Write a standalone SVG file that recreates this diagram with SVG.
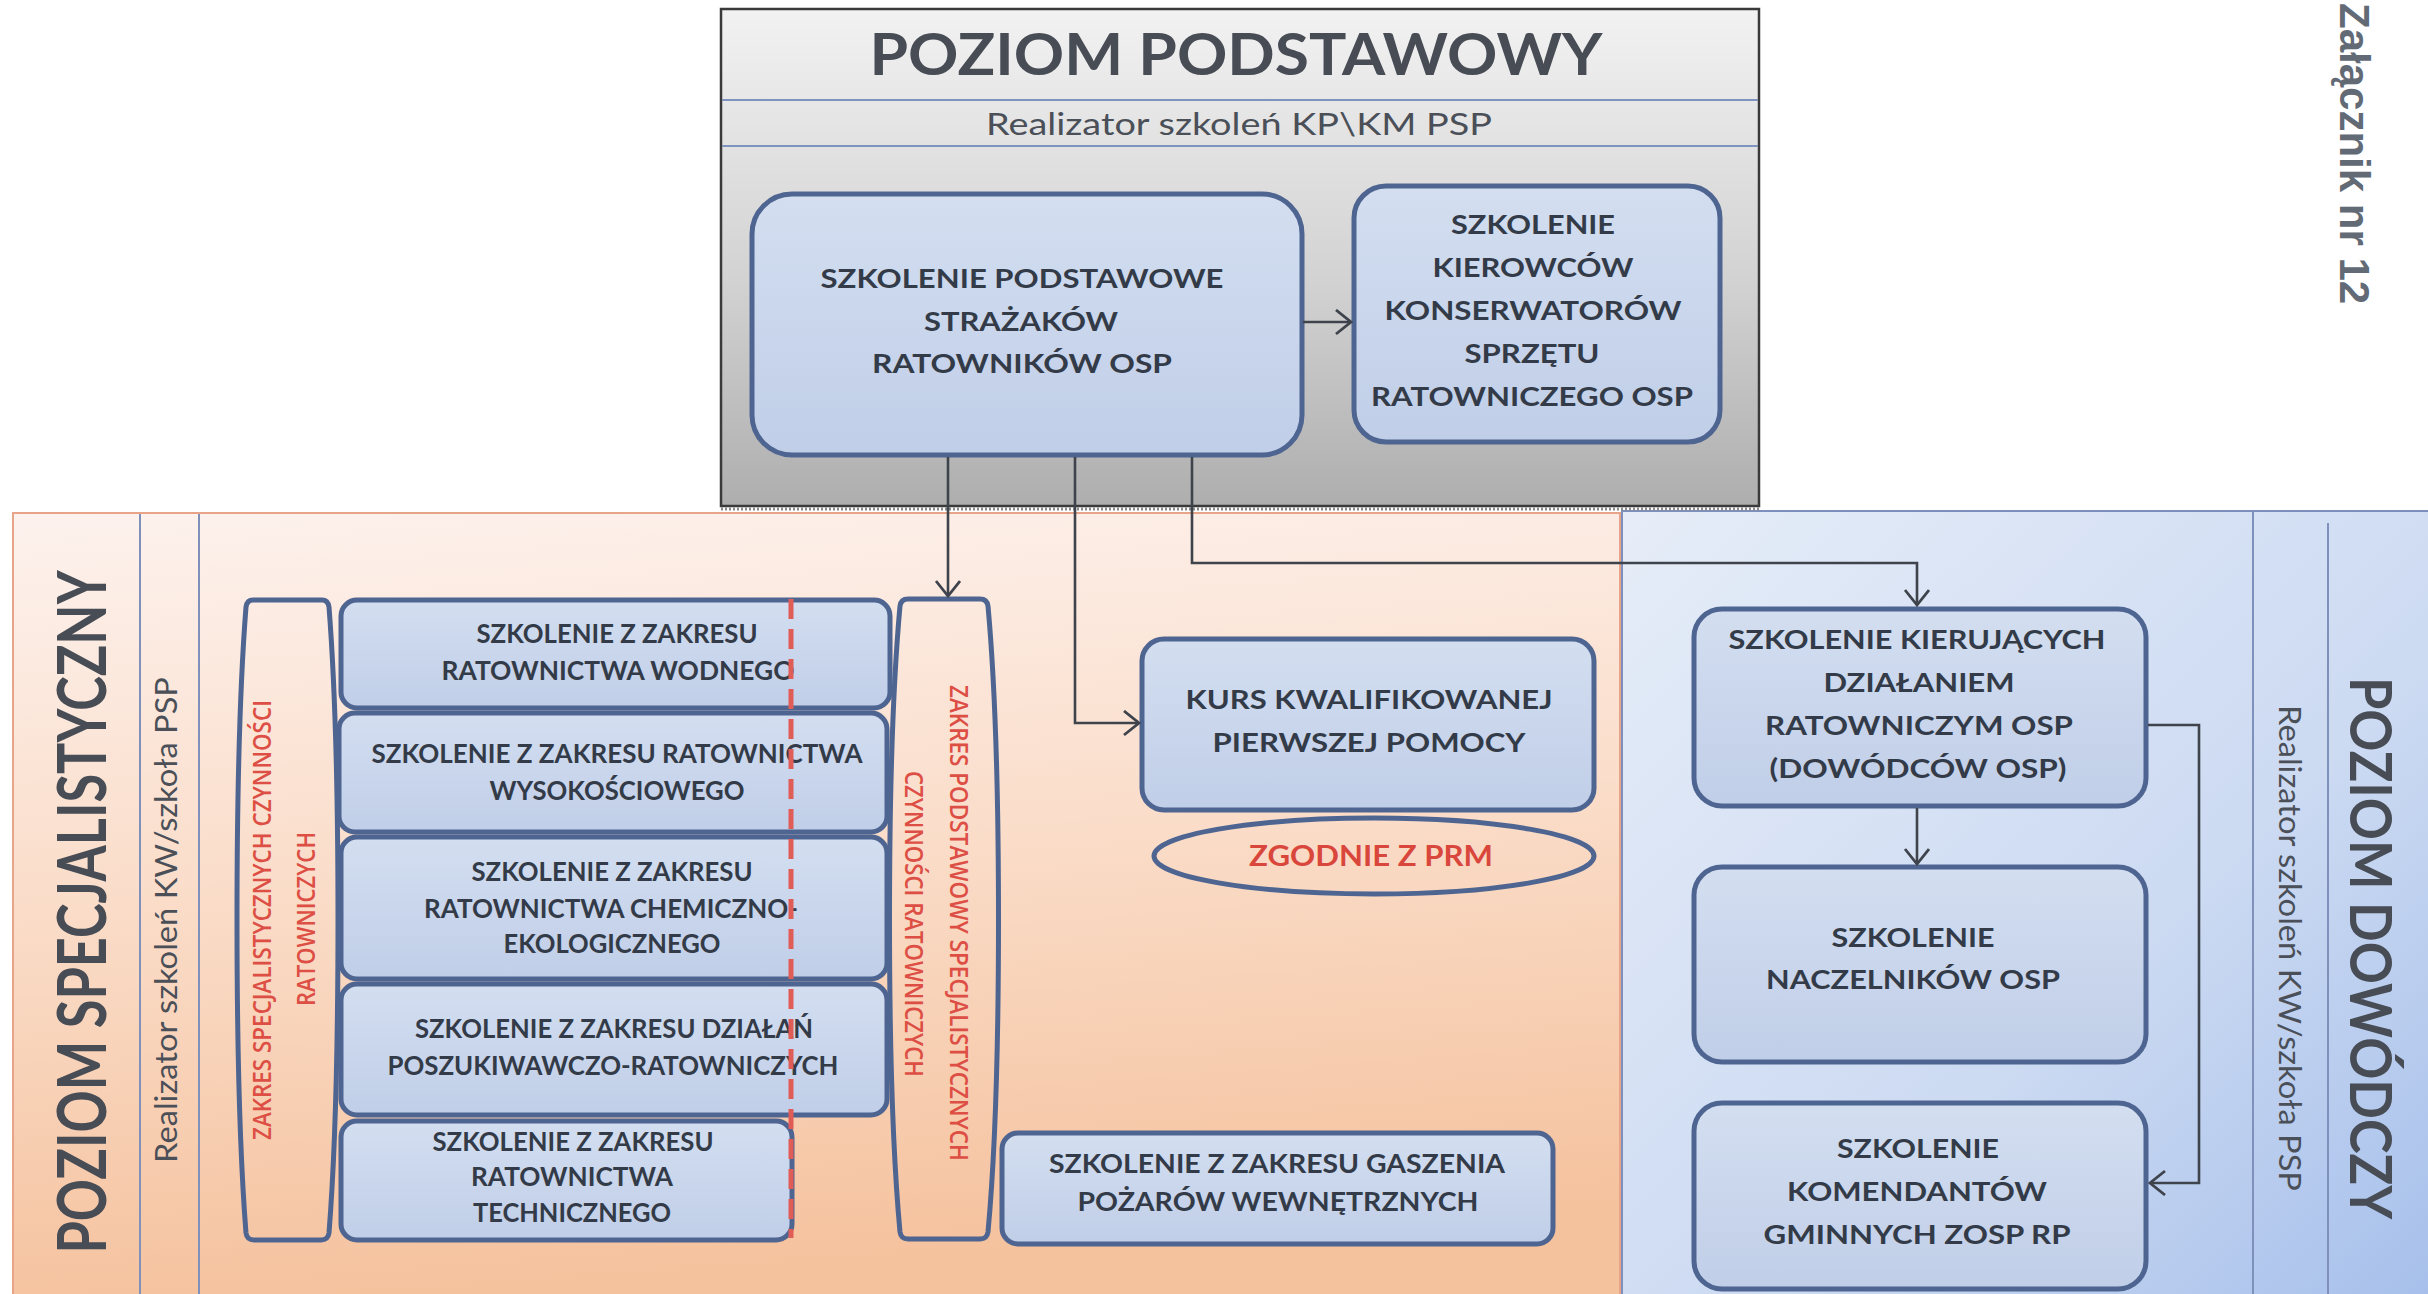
<svg xmlns="http://www.w3.org/2000/svg" width="2428" height="1294" viewBox="0 0 2428 1294">
<defs>
  <linearGradient id="gGray" x1="0" y1="0" x2="0" y2="1">
    <stop offset="0" stop-color="#f2f2f2"/>
    <stop offset="0.55" stop-color="#d2d2d2"/>
    <stop offset="1" stop-color="#aeaeae"/>
  </linearGradient>
  <linearGradient id="gOrange" x1="0" y1="0" x2="0.15" y2="1">
    <stop offset="0" stop-color="#fdf2ee"/>
    <stop offset="0.5" stop-color="#fadcc8"/>
    <stop offset="1" stop-color="#f5c29e"/>
  </linearGradient>
  <linearGradient id="gBlue" x1="0" y1="0" x2="1" y2="1">
    <stop offset="0" stop-color="#e6edf8"/>
    <stop offset="0.6" stop-color="#ccdaf2"/>
    <stop offset="1" stop-color="#a7c0eb"/>
  </linearGradient>
  <linearGradient id="gNode" x1="0" y1="0" x2="0" y2="1">
    <stop offset="0" stop-color="#d3def0"/>
    <stop offset="1" stop-color="#c0cee8"/>
  </linearGradient>
  <marker id="arr" markerUnits="userSpaceOnUse" markerWidth="22" markerHeight="30" viewBox="0 0 22 30" refX="17" refY="13" orient="auto">
    <path d="M2,1 L17,13 L2,25" fill="none" stroke="#3e434c" stroke-width="2.8"/>
  </marker>
  <style>
    .node rect { fill: url(#gNode); stroke: #4f6591; stroke-width: 5; }
    .t { font-family: Lato, "Noto Sans", "Liberation Sans", sans-serif; font-weight: 700; font-size: 27px; fill: #333b48; text-anchor: middle; }
    .prm { font-family: Lato, "Noto Sans", "Liberation Sans", sans-serif; font-weight: 700; font-size: 28px; fill: #d9473c; text-anchor: middle; }
    .red { font-family: "Open Sans", Lato, "Liberation Sans", sans-serif; font-weight: 600; font-size: 25px; fill: #dd4f45; text-anchor: middle; }
    .big { font-family: Lato, "Noto Sans", "Liberation Sans", sans-serif; font-weight: 700; fill: #474c55; text-anchor: middle; }
    .sub { font-family: Lato, "Noto Sans", "Liberation Sans", sans-serif; font-weight: 400; fill: #4a4f58; text-anchor: middle; }
    .conn { fill: none; stroke: #3e434c; stroke-width: 2.6; }
    .cap { fill: none; stroke: #4f6591; stroke-width: 5; }
    .sep { stroke: #7f91bb; stroke-width: 2; }
  </style>
</defs>

<rect x="0" y="0" width="2428" height="1294" fill="#ffffff"/>

<!-- Annex label -->
<text transform="translate(2340,3) rotate(90)" font-family="'Liberation Sans', Arial, sans-serif" font-weight="700" font-size="42" fill="#626a75">Załącznik nr 12</text>

<!-- Panels -->
<g id="panel-specjalistyczny">
  <rect x="13" y="513" width="1607" height="790" fill="url(#gOrange)" stroke="#e7a488" stroke-width="2"/>
  <line class="sep" x1="140" y1="514" x2="140" y2="1294"/>
  <line class="sep" x1="199" y1="514" x2="199" y2="1294"/>
  <text class="big" transform="translate(106,912) rotate(-90)" font-size="66" textLength="683" lengthAdjust="spacingAndGlyphs">POZIOM SPECJALISTYCZNY</text>
  <text class="sub" transform="translate(177,920) rotate(-90)" font-size="31" textLength="486" lengthAdjust="spacingAndGlyphs">Realizator szkoleń KW/szkoła PSP</text>
</g>
<g id="panel-dowodczy">
  <rect x="1621" y="510" width="807" height="784" fill="url(#gBlue)"/>
  <path d="M2428,511 L1622,511 L1622,1294" fill="none" stroke="#7d8fba" stroke-width="2"/>
  <line class="sep" x1="2253" y1="511" x2="2253" y2="1294" stroke="#6a80b3"/>
  <line class="sep" x1="2328" y1="523" x2="2328" y2="1294" stroke="#6a80b3"/>
  <text class="big" transform="translate(2350,948) rotate(90)" font-size="58" textLength="542" lengthAdjust="spacingAndGlyphs">POZIOM DOWÓDCZY</text>
  <text class="sub" transform="translate(2279,948) rotate(90)" font-size="31" textLength="486" lengthAdjust="spacingAndGlyphs">Realizator szkoleń KW/szkoła PSP</text>
</g>
<g id="panel-podstawowy">
  <rect x="721" y="9" width="1038" height="497" fill="url(#gGray)" stroke="#3a3a3a" stroke-width="2.5"/>
  <line x1="722" y1="100" x2="1758" y2="100" stroke="#7f93bf" stroke-width="2"/>
  <line x1="722" y1="146" x2="1758" y2="146" stroke="#7f93bf" stroke-width="2"/>
  <line x1="721" y1="509" x2="1759" y2="509" stroke="#8a8a8a" stroke-width="3" stroke-dasharray="2 2"/>
  <text class="big" x="1236" y="75" font-size="57" font-weight="900" fill="#3c424c" textLength="733" lengthAdjust="spacingAndGlyphs">POZIOM PODSTAWOWY</text>
  <text class="sub" x="1239" y="135" font-size="31" textLength="506" lengthAdjust="spacingAndGlyphs">Realizator szkoleń KP\KM PSP</text>
</g>

<!-- Nodes: poziom podstawowy -->
<g id="n-podstawowe" class="node">
  <rect x="752" y="194" width="550" height="261" rx="40" stroke="#44587f"/>
  <text class="t" x="1022" y="288" textLength="403" lengthAdjust="spacingAndGlyphs">SZKOLENIE PODSTAWOWE</text>
  <text class="t" x="1021" y="331" textLength="194" lengthAdjust="spacingAndGlyphs">STRAŻAKÓW</text>
  <text class="t" x="1022" y="373" textLength="300" lengthAdjust="spacingAndGlyphs">RATOWNIKÓW OSP</text>
</g>
<g id="n-kierowcow" class="node">
  <rect x="1354" y="186" width="366" height="256" rx="32" stroke="#44587f"/>
  <text class="t" x="1533" y="234" textLength="164" lengthAdjust="spacingAndGlyphs">SZKOLENIE</text>
  <text class="t" x="1533" y="277" textLength="201" lengthAdjust="spacingAndGlyphs">KIEROWCÓW</text>
  <text class="t" x="1533" y="320" textLength="297" lengthAdjust="spacingAndGlyphs">KONSERWATORÓW</text>
  <text class="t" x="1532" y="363" textLength="135" lengthAdjust="spacingAndGlyphs">SPRZĘTU</text>
  <text class="t" x="1532" y="406" textLength="322" lengthAdjust="spacingAndGlyphs">RATOWNICZEGO OSP</text>
</g>

<!-- Capsules -->
<g id="n-zakres-specjalistyczny">
  <path class="cap" d="M253,600 L322,600 Q328,600 329,607 C341,760 341,1080 329,1233 Q328,1240 321,1240 L254,1240 Q247,1240 246,1233 C234,1080 234,760 246,607 Q247,600 253,600 Z"/>
  <text class="red" transform="translate(271,920) rotate(-90)" textLength="440" lengthAdjust="spacingAndGlyphs">ZAKRES  SPECJALISTYCZNYCH CZYNNOŚCI</text>
  <text class="red" transform="translate(315,919) rotate(-90)" textLength="174" lengthAdjust="spacingAndGlyphs">RATOWNICZYCH</text>
</g>
<g id="n-zakres-podstawowy">
  <path class="cap" d="M908,599 L980,599 Q987,599 988,606 C1002,760 1002,1080 988,1232 Q987,1239 980,1239 L908,1239 Q901,1239 900,1232 C886,1080 886,760 900,606 Q901,599 908,599 Z"/>
  <text class="red" transform="translate(950,923) rotate(90)" textLength="476" lengthAdjust="spacingAndGlyphs">ZAKRES PODSTAWOWY SPECJALISTYCZNYCH</text>
  <text class="red" transform="translate(905,924) rotate(90)" textLength="306" lengthAdjust="spacingAndGlyphs">CZYNNOŚCI RATOWNICZYCH</text>
</g>

<!-- Stack of specialist trainings -->
<g id="n-wodne" class="node">
  <rect x="341" y="600" width="549" height="108" rx="16"/>
  <text class="t" x="617" y="643" textLength="281" lengthAdjust="spacingAndGlyphs">SZKOLENIE Z ZAKRESU</text>
  <text class="t" x="618" y="680" textLength="353" lengthAdjust="spacingAndGlyphs">RATOWNICTWA WODNEGO</text>
</g>
<g id="n-wysokosciowe" class="node">
  <rect x="339" y="713" width="548" height="119" rx="16"/>
  <text class="t" x="617" y="763" textLength="491" lengthAdjust="spacingAndGlyphs">SZKOLENIE Z ZAKRESU RATOWNICTWA</text>
  <text class="t" x="617" y="800" textLength="255" lengthAdjust="spacingAndGlyphs">WYSOKOŚCIOWEGO</text>
</g>
<g id="n-chemiczne" class="node">
  <rect x="341" y="837" width="546" height="142" rx="16"/>
  <text class="t" x="612" y="881" textLength="281" lengthAdjust="spacingAndGlyphs">SZKOLENIE Z ZAKRESU</text>
  <text class="t" x="611" y="918" textLength="374" lengthAdjust="spacingAndGlyphs">RATOWNICTWA CHEMICZNO-</text>
  <text class="t" x="612" y="953" textLength="217" lengthAdjust="spacingAndGlyphs">EKOLOGICZNEGO</text>
</g>
<g id="n-poszukiwawcze" class="node">
  <rect x="341" y="984" width="546" height="131" rx="16"/>
  <text class="t" x="614" y="1038" textLength="398" lengthAdjust="spacingAndGlyphs">SZKOLENIE Z ZAKRESU DZIAŁAŃ</text>
  <text class="t" x="613" y="1075" textLength="451" lengthAdjust="spacingAndGlyphs">POSZUKIWAWCZO-RATOWNICZYCH</text>
</g>
<g id="n-techniczne" class="node">
  <rect x="341" y="1121" width="451" height="119" rx="16"/>
  <text class="t" x="573" y="1151" textLength="281" lengthAdjust="spacingAndGlyphs">SZKOLENIE Z ZAKRESU</text>
  <text class="t" x="572" y="1186" textLength="202" lengthAdjust="spacingAndGlyphs">RATOWNICTWA</text>
  <text class="t" x="572" y="1222" textLength="198" lengthAdjust="spacingAndGlyphs">TECHNICZNEGO</text>
</g>
<line x1="791" y1="599" x2="791" y2="1238" stroke="#e05c56" stroke-width="5" stroke-dasharray="20 10"/>

<!-- Other specialist nodes -->
<g id="n-kpp" class="node">
  <rect x="1142" y="639" width="452" height="171" rx="22"/>
  <text class="t" x="1369" y="709" textLength="367" lengthAdjust="spacingAndGlyphs">KURS KWALIFIKOWANEJ</text>
  <text class="t" x="1369" y="752" textLength="313" lengthAdjust="spacingAndGlyphs">PIERWSZEJ POMOCY</text>
</g>
<g id="n-prm">
  <ellipse cx="1374" cy="856" rx="220" ry="38" fill="none" stroke="#4f6591" stroke-width="5"/>
  <text class="prm" x="1371" y="866" textLength="244" lengthAdjust="spacingAndGlyphs">ZGODNIE Z PRM</text>
</g>
<g id="n-gaszenie" class="node">
  <rect x="1002" y="1133" width="551" height="111" rx="16"/>
  <text class="t" x="1277" y="1173" textLength="456" lengthAdjust="spacingAndGlyphs">SZKOLENIE Z ZAKRESU GASZENIA</text>
  <text class="t" x="1278" y="1211" textLength="401" lengthAdjust="spacingAndGlyphs">POŻARÓW WEWNĘTRZNYCH</text>
</g>

<!-- Command level nodes -->
<g id="n-kierujacy" class="node">
  <rect x="1694" y="609" width="452" height="197" rx="28"/>
  <text class="t" x="1917" y="649" textLength="377" lengthAdjust="spacingAndGlyphs">SZKOLENIE KIERUJĄCYCH</text>
  <text class="t" x="1919" y="692" textLength="191" lengthAdjust="spacingAndGlyphs">DZIAŁANIEM</text>
  <text class="t" x="1919" y="735" textLength="308" lengthAdjust="spacingAndGlyphs">RATOWNICZYM OSP</text>
  <text class="t" x="1918" y="778" textLength="297" lengthAdjust="spacingAndGlyphs">(DOWÓDCÓW OSP)</text>
</g>
<g id="n-naczelnicy" class="node">
  <rect x="1694" y="867" width="452" height="195" rx="28"/>
  <text class="t" x="1913" y="947" textLength="163" lengthAdjust="spacingAndGlyphs">SZKOLENIE</text>
  <text class="t" x="1913" y="989" textLength="294" lengthAdjust="spacingAndGlyphs">NACZELNIKÓW OSP</text>
</g>
<g id="n-komendanci" class="node">
  <rect x="1694" y="1103" width="452" height="186" rx="28"/>
  <text class="t" x="1918" y="1158" textLength="162" lengthAdjust="spacingAndGlyphs">SZKOLENIE</text>
  <text class="t" x="1917" y="1201" textLength="260" lengthAdjust="spacingAndGlyphs">KOMENDANTÓW</text>
  <text class="t" x="1917" y="1244" textLength="307" lengthAdjust="spacingAndGlyphs">GMINNYCH ZOSP RP</text>
</g>

<!-- Connectors -->
<g id="connectors">
  <path class="conn" d="M1303,322 L1351,322" marker-end="url(#arr)"/>
  <path class="conn" d="M948,457 L948,596" marker-end="url(#arr)"/>
  <path class="conn" d="M1075,457 L1075,723 L1139,723" marker-end="url(#arr)"/>
  <path class="conn" d="M1192,457 L1192,563 L1917,563 L1917,605" marker-end="url(#arr)"/>
  <path class="conn" d="M1917,808 L1917,864" marker-end="url(#arr)"/>
  <path class="conn" d="M2148,725 L2199,725 L2199,1183 L2150,1183" marker-end="url(#arr)"/>
</g>
</svg>
